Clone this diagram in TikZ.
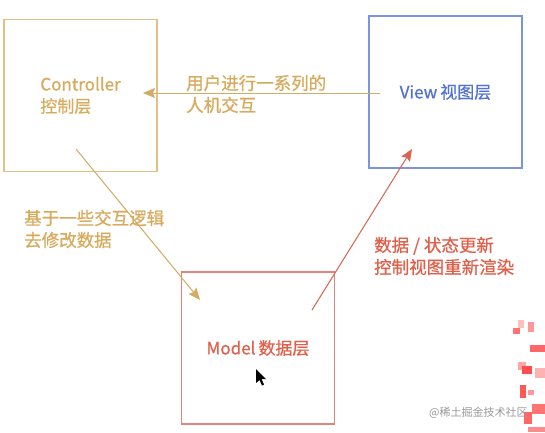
\documentclass[tikz,border=0pt]{standalone}
\usepackage{fontspec}
\setmainfont{Noto Sans CJK SC}
\newfontfamily\medfont{Noto Sans CJK SC}[FakeBold=0.7]
\usetikzlibrary{arrows.meta}
\definecolor{goldbox}{RGB}{224,192,135}
\definecolor{goldtext}{RGB}{216,170,92}
\definecolor{goldarrow}{RGB}{210,172,100}
\definecolor{bluebox}{RGB}{122,148,226}
\definecolor{bluetext}{RGB}{84,114,210}
\definecolor{redbox}{RGB}{226,132,122}
\definecolor{redtext}{RGB}{224,96,74}
\definecolor{redarrow}{RGB}{218,100,80}
\begin{document}
\begin{tikzpicture}[x=1pt,y=-1pt,
  layer/.style={draw, line width=1.5pt, minimum width=153pt, minimum height=152pt,
    inner sep=0pt, align=left, font=\fontsize{17}{22}\selectfont\medfont},
  lbl/.style={anchor=west, align=left, inner sep=0pt, font=\fontsize{17.5}{22}\selectfont\medfont},
  flow/.style={line width=1pt, -{Stealth[length=12pt,width=10pt,inset=2pt]}}]
\useasboundingbox (0,0) rectangle (545,432);
\fill[white] (0,0) rectangle (545,432);
% boxes
\node[layer, draw=goldbox, text=goldtext] (ctrl) at (80.5,95.5) {Controller\\控制层};
\node[layer, draw=bluebox, text=bluetext] (view) at (445.5,92) {View\hspace{3pt}视图层};
\node[layer, draw=redbox, text=redtext] (model) at (258,348) {Model\hspace{3pt}数据层};
% connector ends
\coordinate (vs) at (380,93);
\coordinate (ce) at (143,93);
\coordinate (cs) at (76,149);
\coordinate (me) at (200,300);
\coordinate (ms) at (312,310);
\coordinate (ve) at (412,149);
\draw[flow, draw=goldarrow, fill=goldarrow] (vs) -- (ce);
\draw[flow, draw=goldarrow, fill=goldarrow] (cs) -- (me);
\draw[flow, draw=redarrow, fill=redarrow] (ms) -- (ve);
% labels
\node[lbl, text=goldtext] (l1) at (186,94) {用户进行一系列的\\人机交互};
\node[lbl, text=goldtext] (l2) at (24,229) {基于一些交互逻辑\\去修改数据};
\node[lbl, text=redtext] (l3) at (374,256) {数据 / 状态更新\\控制视图重新渲染};
% cursor
\fill[black] (256,369) -- (256,383) -- (259.5,380) -- (262,385.5) -- (264,384.5) -- (261.5,379) -- (266,379) -- cycle;
% pixelated corner
\fill[red!25] (518,320) rectangle (524,328);
\fill[red!55!white] (513,328) rectangle (520,334);
\fill[red!40] (528,322) rectangle (534,332);
\fill[red!60] (530,345) rectangle (545,352);
\fill[red!35] (518,362) rectangle (526,370);
\fill[red!70] (522,366) rectangle (532,374);
\fill[red!30] (535,368) rectangle (545,378);
\fill[red!65] (520,385) rectangle (526,398);
\fill[red!40] (528,390) rectangle (534,395);
\fill[red!55] (532,404) rectangle (545,414);
\fill[red!60] (524,412) rectangle (532,424);
\fill[red!45] (528,427) rectangle (545,432);
% watermark
\node[anchor=west, inner sep=0pt, text=black!40, font=\fontsize{11}{13}\selectfont] (wm) at (429,413) {@稀土掘金技术社区};
\end{tikzpicture}
\end{document}
